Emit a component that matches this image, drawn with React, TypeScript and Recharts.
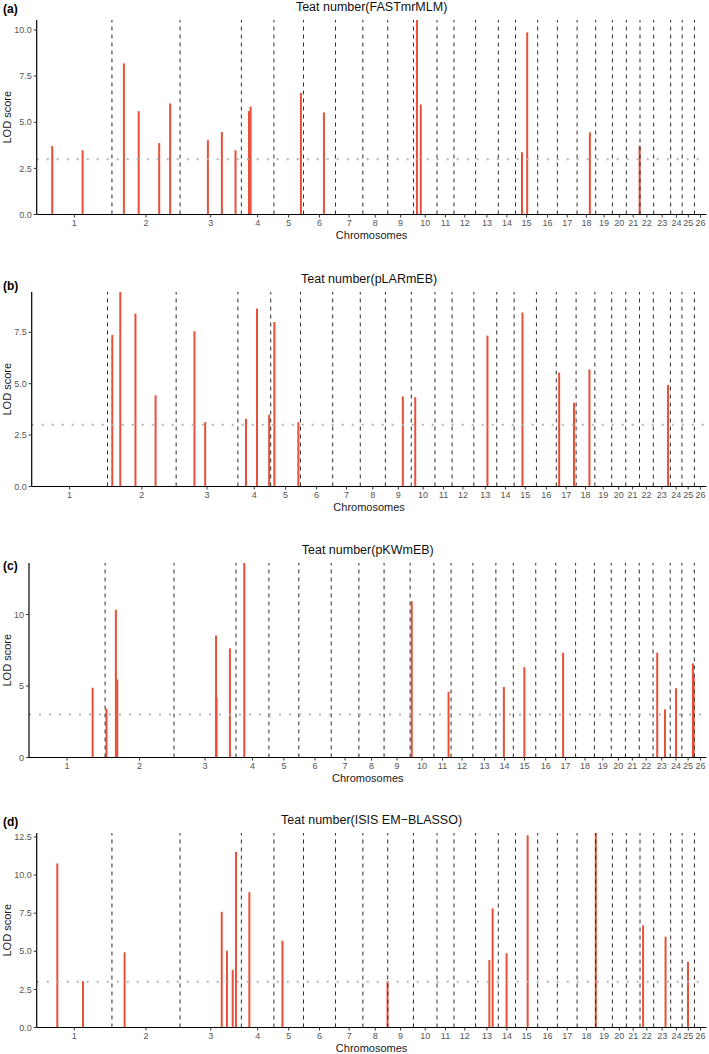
import { ComposedChart, Bar, XAxis, YAxis, ReferenceLine } from "recharts";

// chromosome sizes (Mb), read from the spacing of the dashed separators
const chromNames = [
  "1", "2", "3", "4", "5", "6", "7", "8", "9", "10", "11", "12", "13",
  "14", "15", "16", "17", "18", "19", "20", "21", "22", "23", "24", "25", "26",
];
const chromLengths = [
  275, 249, 224, 119, 108, 117, 100, 91, 94, 86, 62, 79, 83,
  63, 81, 72, 72, 68, 61, 51, 50, 50, 62, 42, 45, 44,
];

// (a) FASTmrMLM
const fastChrom = [1, 1, 2, 2, 2, 2, 3, 3, 3, 4, 4, 5, 6, 10, 10, 15, 15, 18, 21];
const fastPos = [57, 168, 44, 98, 173, 213, 102, 153, 203, 28, 34, 99, 75, 13, 27, 24, 43, 47, 49];
const fastLod = [3.71, 3.48, 8.19, 5.6, 3.87, 6.02, 4.03, 4.47, 3.48, 5.6, 5.85, 6.59, 5.53, 10.54, 5.96, 3.37, 9.87, 4.45, 3.73];

// (b) pLARmEB
const larChrom = [2, 2, 2, 2, 3, 3, 4, 4, 4, 5, 5, 9, 10, 13, 15, 17, 17, 18, 23];
const larPos = [16, 45, 100, 173, 65, 104, 28, 68, 112, 12, 99, 62, 13, 48, 29, 9, 63, 47, 52];
const larLod = [7.37, 9.46, 8.41, 4.43, 7.55, 3.13, 3.29, 8.65, 3.49, 8.0, 3.13, 4.38, 4.34, 7.34, 8.46, 5.54, 4.07, 5.69, 4.94];

// (c) pKWmEB
const kwChrom = [1, 2, 2, 2, 3, 3, 3, 4, 10, 11, 14, 15, 17, 23, 23, 24, 25, 25];
const kwPos = [230, 5, 39, 44, 152, 154, 202, 30, 6, 53, 29, 40, 27, 15, 43, 21, 40, 43];
const kwLod = [4.88, 3.42, 10.33, 5.46, 8.53, 4.19, 7.63, 13.6, 10.93, 4.6, 4.93, 6.32, 7.33, 7.33, 3.37, 4.84, 6.58, 5.63];

// (d) ISIS EM-BLASSO
const isisChrom = [1, 1, 2, 3, 3, 3, 3, 4, 5, 8, 13, 13, 14, 15, 18, 22, 23, 25];
const isisPos = [74, 168, 45, 151, 170, 191, 203, 28, 30, 89, 49, 61, 29, 43, 67, 10, 42, 20];
const isisLod = [10.76, 3.04, 4.93, 7.59, 5.04, 3.78, 11.52, 8.88, 5.69, 3.04, 4.43, 7.81, 4.87, 12.61, 12.76, 6.7, 5.96, 4.3];

const ticksHalf = [0, 2.5, 5, 7.5, 10];
const ticksHalfB = [0, 2.5, 5, 7.5];
const ticksFive = [0, 5, 10];
const ticksHalfD = [0, 2.5, 5, 7.5, 10, 12.5];

const threshold = 3;

const chromStarts = chromLengths.map((_, i) =>
  chromLengths.slice(0, i).reduce((a, b) => a + b, 0)
);
const genomeLength = chromLengths.reduce((a, b) => a + b, 0);
const chromBounds = chromStarts.slice(1);
const chromCenters = chromStarts.map((s, i) => s + chromLengths[i] / 2);

function buildRows(chrom: number[], pos: number[], lod: number[]) {
  return chrom.map((c, i) => ({ x: chromStarts[c - 1] + pos[i], lod: lod[i] }));
}

const FONT = '"Liberation Sans", Arial, Helvetica, sans-serif';
const SPIKE = "#E8503A";
const W = 709;
const H = 251;

// recharts squeezes bars when two loci sit close together, so draw a fixed 2px spike
// centred on the slot that the bar was given
function Spike(props: any) {
  const { x, y, width, height } = props;
  if (height == null || isNaN(height)) return null;
  return <rect x={x + width / 2 - 1} y={y} width={2} height={height} fill={SPIKE} />;
}

type PanelProps = {
  tag: string;
  tagTop: number;
  title: string;
  rows: { x: number; lod: number }[];
  yTicks: number[];
  decimals: number;
  top: number;
  axisWidth: number;
};

function ManhattanPanel({ tag, tagTop, title, rows, yTicks, decimals, top, axisWidth }: PanelProps) {
  return (
    <div style={{ position: "absolute", left: 0, top, width: W, height: H }}>
      <div
        style={{
          position: "absolute",
          left: 3,
          top: tagTop,
          fontFamily: FONT,
          fontWeight: 700,
          fontSize: 12,
          lineHeight: "14px",
          color: "#000",
        }}
      >
        {tag}
      </div>
      <div
        style={{
          position: "absolute",
          left: axisWidth,
          width: W - 2.5 - axisWidth,
          top: 0,
          textAlign: "center",
          fontFamily: FONT,
          fontSize: 12.5,
          lineHeight: "15px",
          color: "#111",
        }}
      >
        {title}
      </div>
      <ComposedChart
        width={W}
        height={H}
        data={rows}
        margin={{ top: 20, right: 2.5, bottom: 0, left: 0 }}
        style={{ fontFamily: FONT }}
      >
        <XAxis
          type="number"
          dataKey="x"
          domain={[0, genomeLength]}
          ticks={chromCenters}
          interval={0}
          tickFormatter={(v) => {
            const i = chromCenters.findIndex((c) => Math.abs(c - Number(v)) < 0.01);
            return i >= 0 ? chromNames[i] : "";
          }}
          height={36.5}
          tickSize={3}
          tickMargin={2}
          tick={{ fill: "#555", fontSize: 9 }}
          tickLine={{ stroke: "#333" }}
          axisLine={{ stroke: "#000", strokeWidth: 1.2 }}
          label={{
            value: "Chromosomes",
            position: "insideBottom",
            offset: 12,
            fill: "#1a1a1a",
            fontSize: 11,
          }}
        />
        <YAxis
          type="number"
          domain={[0, "dataMax"]}
          ticks={yTicks}
          width={axisWidth}
          tickFormatter={(v) => Number(v).toFixed(decimals)}
          tickSize={3}
          tickMargin={2}
          tick={{ fill: "#555", fontSize: 9 }}
          tickLine={{ stroke: "#333" }}
          axisLine={{ stroke: "#000", strokeWidth: 1.2 }}
          label={{
            value: "LOD score",
            angle: -90,
            position: "insideLeft",
            offset: 7,
            fill: "#1a1a1a",
            fontSize: 11,
            style: { textAnchor: "middle" },
          }}
        />
        {chromBounds.map((b) => (
          <ReferenceLine key={b} x={b} stroke="#2a2a2a" strokeWidth={1} strokeDasharray="4 4" />
        ))}
        <ReferenceLine y={threshold} stroke="#b3b3b3" strokeWidth={2} strokeDasharray="2 8" />
        <Bar dataKey="lod" fill={SPIKE} barSize={2} shape={<Spike />} isAnimationActive={false} />
      </ComposedChart>
    </div>
  );
}

export default function App() {
  return (
    <div
      style={{
        position: "absolute",
        left: 0,
        top: 0,
        width: W,
        height: 1054,
        background: "#ffffff",
        overflow: "hidden",
      }}
    >
      <ManhattanPanel
        tag="(a)"
        tagTop={2}
        title="Teat number(FASTmrMLM)"
        rows={buildRows(fastChrom, fastPos, fastLod)}
        yTicks={ticksHalf}
        decimals={1}
        top={0}
        axisWidth={36.7}
      />
      <ManhattanPanel
        tag="(b)"
        tagTop={7}
        title="Teat number(pLARmEB)"
        rows={buildRows(larChrom, larPos, larLod)}
        yTicks={ticksHalfB}
        decimals={1}
        top={271.7}
        axisWidth={31.7}
      />
      <ManhattanPanel
        tag="(c)"
        tagTop={16}
        title="Teat number(pKWmEB)"
        rows={buildRows(kwChrom, kwPos, kwLod)}
        yTicks={ticksFive}
        decimals={0}
        top={543.3}
        axisWidth={29}
      />
      <ManhattanPanel
        tag="(d)"
        tagTop={2}
        title="Teat number(ISIS EM−BLASSO)"
        rows={buildRows(isisChrom, isisPos, isisLod)}
        yTicks={ticksHalfD}
        decimals={1}
        top={813.3}
        axisWidth={36.7}
      />
    </div>
  );
}
